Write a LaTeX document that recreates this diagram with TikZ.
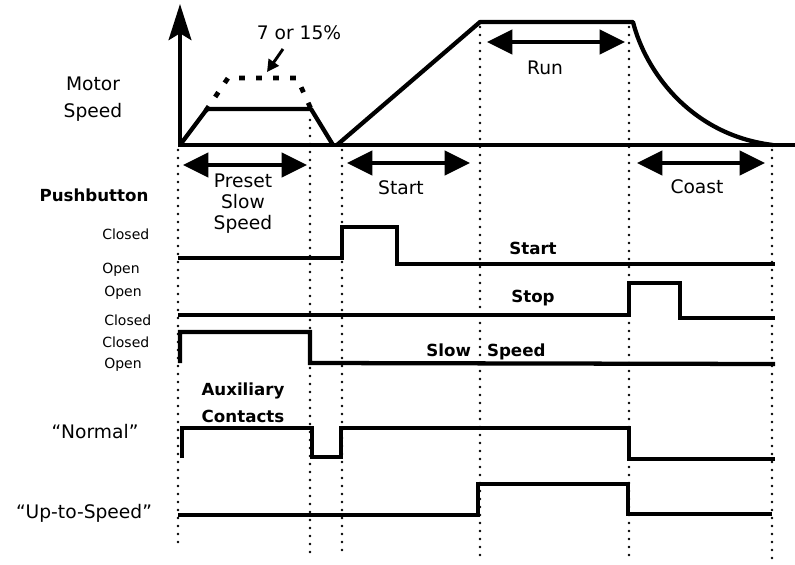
\documentclass[tikz,border=0pt]{standalone}
\usepackage{fontspec}
\setmainfont{DejaVu Sans}
\usetikzlibrary{arrows.meta}
\begin{document}
\begin{tikzpicture}[x=0.75pt,y=-0.75pt,
  sig/.style={line width=3.2pt, line join=miter},
  dotv/.style={line width=2pt, dash pattern=on 0pt off 6pt, line cap=round},
  lbl/.style={font=\fontsize{14}{20}\selectfont, align=center, inner sep=0pt},
  plbl/.style={font=\fontsize{14}{15.75}\selectfont, align=center, inner sep=0pt},
  blbl/.style={font=\fontsize{12.5}{20}\selectfont\bfseries, align=center, inner sep=0pt},
  slbl/.style={font=\fontsize{10.5}{12}\selectfont, anchor=west, inner sep=0pt},
  dbl/.style={line width=3.2pt, {Triangle[length=19pt,width=18pt]}-{Triangle[length=19pt,width=18pt]}},
]
\useasboundingbox (0,0) rectangle (795,564);

% dotted time markers
\draw[dotv] (178,150) -- (178,547);
\draw[dotv] (310,120) -- (310,557);
\draw[dotv] (342,150) -- (342,557);
\draw[dotv] (480,27) -- (480,555);
\draw[dotv] (629,27) -- (629,560);
\draw[dotv] (772,150) -- (772,560);

% axes
\draw[line width=3.2pt, -{Stealth[length=27pt,width=17pt,inset=5pt]}] (180,147) -- (180,4);
\draw[line width=3.2pt] (178,145) -- (795,145);

% speed profile
\draw[sig, line join=round] (180,145) -- (207,109) -- (311,109) -- (333,145);
\draw[line width=3.6pt, dash pattern=on 0.6pt off 12.15pt, line cap=rect]
  (207,109) -- (228,78) -- (297,78) -- (311,109);
\draw[sig, line join=round] (337,145) -- (480,22) -- (633,22)
  .. controls (645,70) and (690,135) .. (773,145);

% labels of the speed chart
\node[lbl] (motor) at (93,99) {Motor\\Speed};
\node[lbl] (pct) at (299,33) {7 or 15\%};
\coordinate (pctfrom) at (283,49);
\coordinate (pctto) at (267,72);
\draw[line width=2.2pt, -{Triangle[length=9pt,width=9pt]}] (pctfrom) -- (pctto);

% phase arrows
\coordinate (pa) at (183,165); \coordinate (pb) at (307,165);
\coordinate (sa) at (347,163); \coordinate (sb) at (470,163);
\coordinate (ra) at (487,42);  \coordinate (rb) at (625,42);
\coordinate (ca) at (637,163); \coordinate (cb) at (765,163);
\draw[dbl] (pa) -- (pb);
\draw[dbl] (sa) -- (sb);
\draw[dbl] (ra) -- (rb);
\draw[dbl] (ca) -- (cb);
\node[plbl] (preset) at (243,204) {Preset\\Slow\\Speed};
\node[lbl] (startl) at (401,188) {Start};
\node[lbl] (run) at (545,68) {Run};
\node[lbl] (coast) at (697,187) {Coast};

% pushbutton labels
\node[blbl] (push) at (94,195) {Pushbutton};
\node[slbl] (c1) at (102,234) {Closed};
\node[slbl] (o1) at (102,270) {Open};
\node[slbl] (o2) at (104,293) {Open};
\node[slbl] (c2) at (104,320) {Closed};
\node[slbl] (c3) at (102,342) {Closed};
\node[slbl] (o3) at (104,365) {Open};

% pushbutton signals
\draw[sig] (178,258) -- (342,258) -- (342,227) -- (397,227) -- (397,264) -- (775,264);
\draw[sig] (178,315) -- (629,315) -- (629,283) -- (680,283) -- (680,318) -- (775,318);
\draw[sig] (180,363) -- (180,332) -- (310,332) -- (310,363) -- (775,364);
\node[blbl] (startb) at (533,248) {Start};
\node[blbl] (stopb) at (533,298) {Stop};
\node[blbl] (slowb) at (486,352) {Slow\hspace{12pt}Speed};

% auxiliary contacts
\node[blbl] (aux) at (243,403) {Auxiliary\\Contacts};
\node[lbl] (normal) at (95,432) {“Normal”};
\node[lbl] (upto) at (84,513) {“Up-to-Speed”};
\draw[sig] (182,458) -- (182,428) -- (312,428) -- (312,457) -- (341,457) -- (341,428)
  -- (629,428) -- (629,459) -- (775,459);
\draw[sig] (178,515) -- (478,515) -- (478,484) -- (628,484) -- (628,514) -- (772,514);
\end{tikzpicture}
\end{document}
